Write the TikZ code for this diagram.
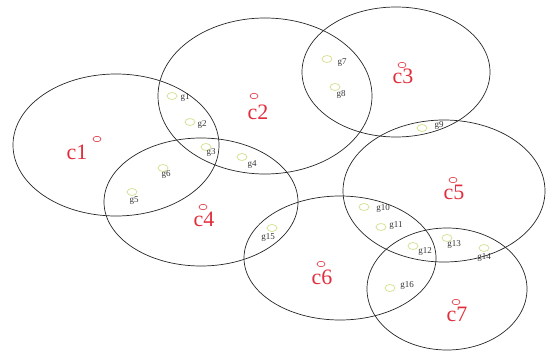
\documentclass[tikz,border=0pt]{standalone}
\usepackage{fontspec}
\setmainfont{Liberation Serif}
\usetikzlibrary{shapes.geometric}
\definecolor{cred}{RGB}{225,45,60}
\definecolor{gmark}{RGB}{215,225,150}
\begin{document}
\begin{tikzpicture}[x=1pt,y=-1pt,
  region/.style={draw=black!85,line width=0.7pt},
  clab/.style={text=cred,font=\fontsize{22}{22}\selectfont,inner sep=0pt},
  cmark/.style={draw=cred,line width=0.6pt,ellipse,minimum width=8pt,minimum height=5.5pt,inner sep=0pt},
  gmk/.style={draw=gmark,line width=0.8pt,ellipse,minimum width=10pt,minimum height=7pt,inner sep=0pt},
  glab/.style={text=black!80,font=\fontsize{9}{9}\selectfont,inner sep=0pt}]
\useasboundingbox (0,0) rectangle (546,356);
% regions
\draw[region] (116,145) ellipse [x radius=103, y radius=71];
\draw[region] (265,96) ellipse [x radius=107, y radius=78];
\draw[region] (396,72) ellipse [x radius=94, y radius=65];
\draw[region] (201,202) ellipse [x radius=97, y radius=64];
\draw[region] (444,191) ellipse [x radius=101, y radius=71];
\draw[region] (340,258) ellipse [x radius=96, y radius=62];
\draw[region] (447,289) ellipse [x radius=80, y radius=61];
% centre labels
\node[cmark] (m1) at (97,139) {}; \node[clab] (c1) at (77,152) {c1};
\node[cmark] (m2) at (254,96) {}; \node[clab] (c2) at (258,112) {c2};
\node[cmark] (m3) at (402,65) {}; \node[clab] (c3) at (403,76) {c3};
\node[cmark] (m4) at (203,207) {}; \node[clab] (c4) at (204,219) {c4};
\node[cmark] (m5) at (453,180) {}; \node[clab] (c5) at (454,192) {c5};
\node[cmark] (m6) at (321,264) {}; \node[clab] (c6) at (322,277) {c6};
\node[cmark] (m7) at (456,302) {}; \node[clab] (c7) at (457,314) {c7};
% points
\node[gmk] (p1) at (172,96) {};  \node[glab] (g1) at (185,97) {g1};
\node[gmk] (p2) at (190,122) {}; \node[glab] (g2) at (202,124) {g2};
\node[gmk] (p3) at (206,147) {}; \node[glab] (g3) at (211,152) {g3};
\node[gmk] (p4) at (242,157) {}; \node[glab] (g4) at (252,165) {g4};
\node[gmk] (p5) at (132,192) {}; \node[glab] (g5) at (134,201) {g5};
\node[gmk] (p6) at (163,168) {}; \node[glab] (g6) at (166,174) {g6};
\node[gmk] (p7) at (327,59) {};  \node[glab] (g7) at (342,63) {g7};
\node[gmk] (p8) at (335,87) {};  \node[glab] (g8) at (341,94) {g8};
\node[gmk] (p9) at (422,128) {}; \node[glab] (g9) at (439,125) {g9};
\node[gmk] (p10) at (364,207) {}; \node[glab] (g10) at (383,208) {g10};
\node[gmk] (p11) at (381,227) {}; \node[glab] (g11) at (396,225) {g11};
\node[gmk] (p12) at (413,246) {}; \node[glab] (g12) at (425,251) {g12};
\node[gmk] (p13) at (447,238) {}; \node[glab] (g13) at (454,244) {g13};
\node[gmk] (p14) at (484,248) {}; \node[glab] (g14) at (484,257) {g14};
\node[gmk] (p15) at (272,228) {}; \node[glab] (g15) at (268,237) {g15};
\node[gmk] (p16) at (390,288) {}; \node[glab] (g16) at (407,285) {g16};
\end{tikzpicture}
\end{document}
